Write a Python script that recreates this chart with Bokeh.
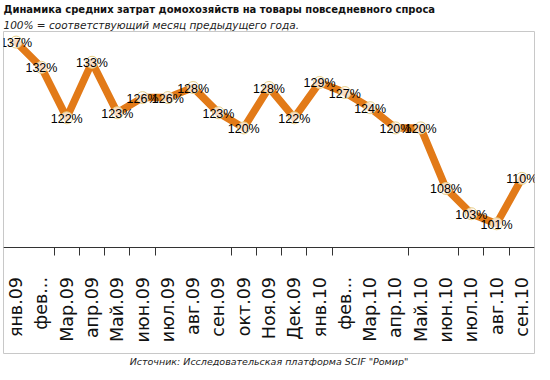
from bokeh.plotting import figure
from bokeh.models import ColumnDataSource, FixedTicker, Range1d, Title
from bokeh.core.properties import value
from bokeh.embed import file_html
from bokeh.resources import INLINE

months = ["янв.09", "фев...", "Мар.09", "апр.09", "Май.09", "июн.09", "июл.09",
          "авг.09", "сен.09", "окт.09", "Ноя.09", "Дек.09", "янв.10", "фев...",
          "Мар.10", "апр.10", "Май.10", "июн.10", "июл.10", "авг.10", "сен.10"]
values = [137, 132, 122, 133, 123, 126, 126, 128, 123, 120, 128, 122,
          129, 127, 124, 120, 120, 108, 103, 101, 110]
labels = [f"{v}%" for v in values]
idx = list(range(len(months)))

src = ColumnDataSource(dict(x=idx, y=values, lab=labels))

p = figure(width=538, height=366, output_backend="svg", toolbar_location=None,
           x_range=Range1d(-0.5, len(months) - 0.5), y_range=Range1d(75.3, 139.1),
           min_border_left=3, min_border_right=4, min_border_top=8, min_border_bottom=2)
p.title = None
p.background_fill_color = "white"
p.border_fill_color = "white"
p.outline_line_color = "#c8c8c8"
p.outline_line_width = 1
p.xgrid.visible = False
p.ygrid.visible = False
p.yaxis.visible = False

sub = Title(text="100% = соответствующий месяц  предыдущего года.", text_font="DejaVu Sans",
            text_font_style="italic", text_font_size="10.5px", text_color="#222222",
            offset=0, standoff=2)
main = Title(text="Динамика средних затрат домохозяйств  на товары повседневного спроса",
             text_font="DejaVu Sans", text_font_style="bold", text_font_size="10px",
             text_color="#111111", offset=0, standoff=2)
p.add_layout(sub, "above")
p.add_layout(main, "above")
srcnote = Title(text='Источник: Исследовательская платформа SCIF "Ромир"', text_font="DejaVu Sans",
                text_font_style="italic", text_font_size="9.5px", text_color="#222222",
                align="center", standoff=0)
p.add_layout(srcnote, "below")

ax = p.xaxis[0]
ax.fixed_location = 96.4
ax.ticker = FixedTicker(ticks=idx, minor_ticks=[1.5, 2.5, 3.5, 4.5, 5.5, 8.5, 9.5, 10.5,
                                                11.5, 12.5, 15.5, 17.5, 18.5, 19.5])
ax.major_label_overrides = {i: m for i, m in enumerate(months)}
ax.major_label_orientation = 1.5708
ax.major_label_text_font = "DejaVu Sans"
ax.major_label_text_font_size = "17.5px"
ax.major_label_text_color = "#111111"
ax.major_label_standoff = 22
ax.major_tick_out = 0
ax.major_tick_in = 0
ax.minor_tick_out = 8
ax.minor_tick_in = 0
ax.minor_tick_line_color = "#333333"
ax.axis_line_color = "#333333"
ax.axis_line_width = 1

p.line("x", "y", source=src, line_color="#E27A18", line_width=7.5, line_join="round", line_cap="round")
p.scatter("x", "y", source=src, size=12, fill_color="white", fill_alpha=0.75,
          line_color="#E8CF88", line_width=1)
p.text("x", "y", text="lab", source=src, text_font=value("Liberation Sans"),
       text_font_size="12.5px", text_align="center", text_baseline="middle", text_color="#000000",
       y_offset=1)

open("out.html", "w").write(file_html(p, INLINE))
